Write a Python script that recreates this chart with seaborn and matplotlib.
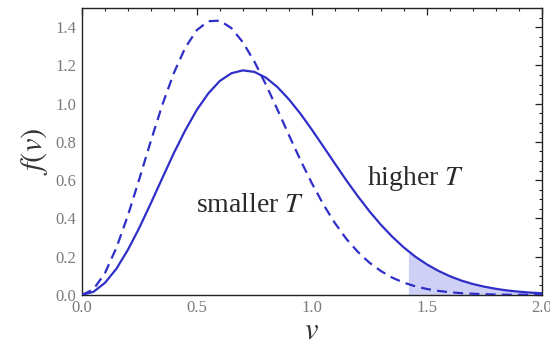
import numpy as np
import pandas as pd
import matplotlib
matplotlib.use("Agg")
import matplotlib.pyplot as plt
from matplotlib.ticker import MultipleLocator
import seaborn as sns

# speeds (shared grid)
v = [0.00, 0.05, 0.10, 0.15, 0.20, 0.25, 0.30, 0.35, 0.40, 0.45,
     0.50, 0.55, 0.60, 0.65, 0.70, 0.75, 0.80, 0.85, 0.90, 0.95,
     1.00, 1.05, 1.10, 1.15, 1.20, 1.25, 1.30, 1.35, 1.40, 1.45,
     1.50, 1.55, 1.60, 1.65, 1.70, 1.75, 1.80, 1.85, 1.90, 1.95, 2.00]

# higher T (solid)
f_high = [0.000, 0.016, 0.063, 0.137, 0.236, 0.352, 0.480, 0.612, 0.742, 0.862,
          0.968, 1.054, 1.119, 1.159, 1.174, 1.166, 1.136, 1.087, 1.023, 0.948,
          0.864, 0.776, 0.687, 0.599, 0.516, 0.438, 0.367, 0.304, 0.248, 0.200,
          0.160, 0.126, 0.098, 0.075, 0.057, 0.043, 0.032, 0.023, 0.017, 0.012, 0.009]

# smaller T (dashed)
f_low = [0.000, 0.029, 0.114, 0.247, 0.416, 0.608, 0.806, 0.995, 1.161, 1.294,
         1.385, 1.431, 1.434, 1.395, 1.321, 1.220, 1.100, 0.970, 0.836, 0.706,
         0.584, 0.473, 0.376, 0.293, 0.225, 0.169, 0.125, 0.090, 0.064, 0.045,
         0.031, 0.021, 0.014, 0.009, 0.006, 0.004, 0.002, 0.001, 0.001, 0.001, 0.000]

# shaded tail start
shade_v0 = 1.42
shade_f0 = 0.228

blue = "#2f2fc8"

sns.set_style("white")
plt.rcParams["font.family"] = ["Liberation Serif", "DejaVu Serif"]
plt.rcParams["mathtext.fontset"] = "stix"

fig = plt.figure(figsize=(5.5, 3.49), dpi=100)
ax = fig.add_axes([0.149, 0.155, 0.836, 0.822])

df = pd.DataFrame({"v": v, "high": f_high, "low": f_low})

# shaded tail under solid curve
tail = df[df["v"] > shade_v0]
sv = [shade_v0] + tail["v"].tolist()
sf = [shade_f0] + tail["high"].tolist()
ax.fill_between(sv, 0, sf, color="#cfd0f6", lw=0, zorder=1)

sns.lineplot(data=df, x="v", y="high", ax=ax, color=blue, lw=1.6, zorder=3)
sns.lineplot(data=df, x="v", y="low", ax=ax, color=blue, lw=1.6,
             linestyle=(0, (4.5, 2.8)), zorder=3)

ax.set_xlim(0, 2.0)
ax.set_ylim(0, 1.5)

ax.xaxis.set_major_locator(MultipleLocator(0.5))
ax.xaxis.set_minor_locator(MultipleLocator(0.1))
ax.yaxis.set_major_locator(MultipleLocator(0.2))
ax.yaxis.set_minor_locator(MultipleLocator(0.05))
ax.xaxis.set_major_formatter(matplotlib.ticker.FormatStrFormatter("%.1f"))
ax.yaxis.set_major_formatter(matplotlib.ticker.FormatStrFormatter("%.1f"))

ax.tick_params(which="both", direction="in", top=True, right=True,
               colors="#222222", labelcolor="#7a7a7a", labelsize=12)
ax.tick_params(which="major", length=5, width=0.9, pad=4)
ax.tick_params(which="minor", length=2.5, width=0.8)
for s in ax.spines.values():
    s.set_color("#222222")
    s.set_linewidth(1.0)

ax.set_xlabel(r"$v$", fontsize=22, color="#333333", labelpad=0)
ax.set_ylabel(r"$f(v)$", fontsize=22, color="#333333", labelpad=4)

ax.text(1.452, 0.61, r"higher $T$", fontsize=20, color="#2a2a2a",
        ha="center", va="center")
ax.text(0.73, 0.47, r"smaller $T$", fontsize=20, color="#2a2a2a",
        ha="center", va="center")

fig.savefig("out.png", dpi=100)
